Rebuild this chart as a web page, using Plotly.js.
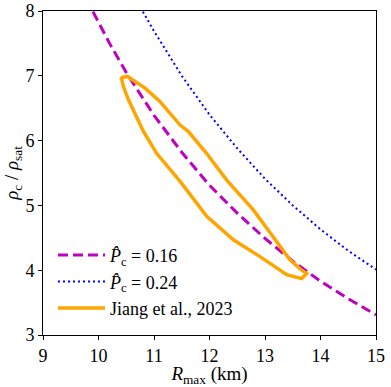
<!DOCTYPE html>
<html>
<head>
<meta charset="utf-8">
<script src="https://cdn.plot.ly/plotly-3.0.1.min.js"></script>
<style>
  html, body { margin: 0; padding: 0; background: #fff; }
  #plot { width: 391px; height: 387px; }
</style>
</head>
<body>
<div id="plot"></div>
<script>
// P_c = 0.16 curve
var r16 = [9.9, 10.2, 10.5, 11.0, 11.5, 12.0, 12.5, 13.0, 13.5, 14.0, 14.5, 15.0];
var rho16 = [7.99, 7.50, 7.05, 6.39, 5.82, 5.31, 4.88, 4.49, 4.14, 3.83, 3.56, 3.31];

// P_c = 0.24 curve
var r24 = [10.8, 11.0, 11.5, 12.0, 12.5, 13.0, 13.5, 14.0, 14.5, 15.0];
var rho24 = [7.99, 7.69, 7.00, 6.40, 5.88, 5.41, 5.00, 4.63, 4.30, 4.01];

// Jiang et al. 2023 contour
var rJiang = [10.40, 10.52, 10.84, 11.11, 11.47, 11.62, 11.95, 12.31, 12.79, 13.15, 13.45, 13.66, 13.75,
              13.66, 13.39, 12.91, 12.43, 11.95, 11.47, 11.05, 10.81, 10.54, 10.45, 10.42, 10.40];
var rhoJiang = [6.97, 6.99, 6.81, 6.60, 6.24, 6.14, 5.80, 5.39, 4.93, 4.52, 4.16, 4.00, 3.95,
                3.87, 3.93, 4.21, 4.47, 4.83, 5.37, 5.80, 6.14, 6.63, 6.83, 6.94, 6.97];

var fnt = 'Liberation Serif';

var trace1 = {
  x: r16, y: rho16,
  type: 'scatter', mode: 'lines',
  line: {color: '#bf00bf', width: 3, dash: '10px,5px'},
  name: '<i>P\u0302</i><sub>c</sub> = 0.16'
};
var trace2 = {
  x: r24, y: rho24,
  type: 'scatter', mode: 'lines',
  line: {color: '#0000ff', width: 2, dash: '2px,3px'},
  name: '<i>P\u0302</i><sub>c</sub> = 0.24'
};
var trace3 = {
  x: rJiang, y: rhoJiang,
  type: 'scatter', mode: 'lines',
  line: {color: '#ffa500', width: 3.5},
  name: 'Jiang et al., 2023'
};

var axisStyle = {
  showgrid: false, zeroline: false,
  showline: true, mirror: true, linecolor: '#000', linewidth: 1,
  ticks: 'outside', ticklen: 4, tickcolor: '#000',
  tickfont: {family: fnt, size: 18, color: '#000'}
};

var layout = {
  width: 391, height: 387,
  margin: {l: 43, r: 15, t: 11, b: 52},
  paper_bgcolor: '#fff', plot_bgcolor: '#fff',
  font: {family: fnt, color: '#000'},
  showlegend: true,
  legend: {
    x: 0.03, y: 0.025, xanchor: 'left', yanchor: 'bottom',
    bgcolor: 'rgba(255,255,255,0)', borderwidth: 0,
    itemwidth: 47, tracegroupgap: 0,
    font: {family: fnt, size: 18, color: '#000'}
  },
  xaxis: Object.assign({}, axisStyle, {
    range: [9, 15], dtick: 1,
    title: {text: '<i>R</i><sub>max</sub> (km)', font: {family: fnt, size: 19}, standoff: 0}
  }),
  yaxis: Object.assign({}, axisStyle, {
    range: [3, 8], dtick: 1,
    title: {text: '<i>ρ</i><sub>c</sub> / <i>ρ</i><sub>sat</sub>', font: {family: fnt, size: 19}, standoff: 0}
  })
};

Plotly.newPlot('plot', [trace1, trace2, trace3], layout, {displayModeBar: false, staticPlot: true});
</script>
</body>
</html>
